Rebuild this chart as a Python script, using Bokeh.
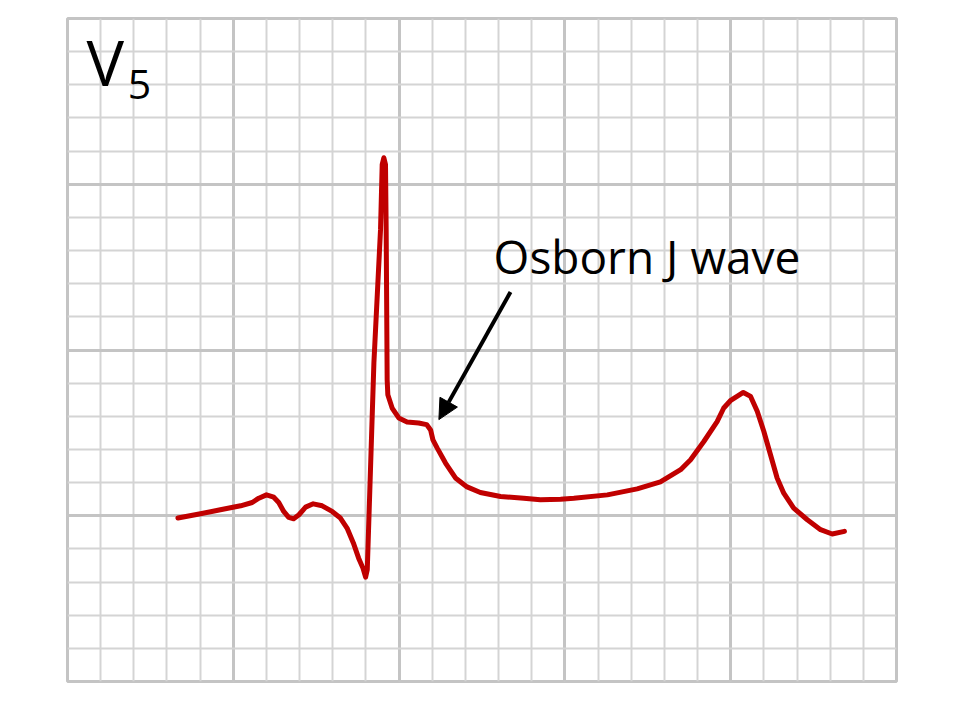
from bokeh.plotting import figure
from bokeh.models import FixedTicker, Range1d, Arrow, NormalHead, Label
from bokeh.embed import file_html
from bokeh.resources import INLINE

# ECG trace (x, y in small-square units; y=0 is the isoelectric line)
ecg_x = [3.33, 4.01, 4.61, 5.22, 5.57, 5.77, 6.00, 6.22, 6.37, 6.52, 6.67, 6.82,
         6.98, 7.18, 7.41, 7.68, 7.98, 8.23, 8.43, 8.62, 8.78, 8.91, 8.99, 9.04,
         9.24, 9.44, 9.49, 9.54, 9.59, 9.61, 9.64, 9.66, 9.79, 9.99, 10.24, 10.59,
         10.83, 10.95, 11.02, 11.15, 11.40, 11.70, 12.05, 12.45, 13.06, 13.76,
         14.26, 14.87, 15.27, 16.28, 17.18, 17.88, 18.49, 18.79, 19.19, 19.59,
         19.79, 19.99, 20.38, 20.60, 20.80, 21.00, 21.20, 21.40, 21.60, 21.90,
         22.31, 22.71, 23.06, 23.43]
ecg_y = [-0.07, 0.06, 0.18, 0.30, 0.40, 0.53, 0.63, 0.56, 0.40, 0.13, -0.05, -0.09,
         0.03, 0.26, 0.36, 0.30, 0.13, -0.07, -0.37, -0.82, -1.28, -1.58, -1.85, -1.63,
         4.61, 8.63, 10.59, 10.80, 10.59, 8.63, 4.10, 3.65, 3.25, 2.95, 2.83, 2.80,
         2.75, 2.59, 2.29, 2.04, 1.59, 1.14, 0.87, 0.70, 0.58, 0.53,
         0.48, 0.50, 0.53, 0.63, 0.81, 1.02, 1.39, 1.69, 2.24, 2.84,
         3.25, 3.47, 3.72, 3.60, 3.15, 2.54, 1.84, 1.14, 0.68, 0.23,
         -0.12, -0.42, -0.55, -0.47]

major_x = [0, 5, 10, 15, 20, 25]
minor_x = list(range(0, 26))
major_y = [-5, 0, 5, 10, 15]
minor_y = list(range(-5, 16))

lead_label = "V"
lead_sub = "5"
annotation = "Osborn J wave"
arrow_tail = (13.36, 6.75)
arrow_tip = (11.20, 2.90)

p = figure(width=958, height=688, output_backend="svg", toolbar_location=None,
           x_range=Range1d(0, 25), y_range=Range1d(-5, 15),
           min_border_left=67, min_border_right=62, min_border_top=18,
           min_border_bottom=7)
p.axis.visible = False
p.background_fill_color = "white"
p.border_fill_color = "white"
p.outline_line_color = "#c4c4c4"
p.outline_line_width = 3

for g, maj, mnr in ((p.xgrid, major_x, minor_x), (p.ygrid, major_y, minor_y)):
    g.ticker = FixedTicker(ticks=maj, minor_ticks=mnr)
    g.grid_line_color = "#c4c4c4"
    g.grid_line_width = 3
    g.grid_line_alpha = 1
    g.minor_grid_line_color = "#d4d4d4"
    g.minor_grid_line_width = 2

p.line(ecg_x, ecg_y, line_color="#c00000", line_width=5,
       line_join="round", line_cap="round")

p.add_layout(Arrow(end=NormalHead(size=20, fill_color="black", line_color="black"),
                   x_start=arrow_tail[0], y_start=arrow_tail[1],
                   x_end=arrow_tip[0], y_end=arrow_tip[1],
                   line_color="black", line_width=4))

p.add_layout(Label(x=12.85, y=7.84, text=annotation, text_font="Open Sans",
                   text_font_size="46px", text_color="black",
                   text_baseline="alphabetic"))
p.add_layout(Label(x=0.57, y=13.69, text=lead_label, text_font="Open Sans",
                   text_font_size="63px", text_color="black",
                   text_baseline="alphabetic"))
p.add_layout(Label(x=1.82, y=13.02, text=lead_sub, text_font="Open Sans",
                   text_font_size="41px", text_color="black",
                   text_baseline="alphabetic"))

open("out.html", "w").write(file_html(p, INLINE))
